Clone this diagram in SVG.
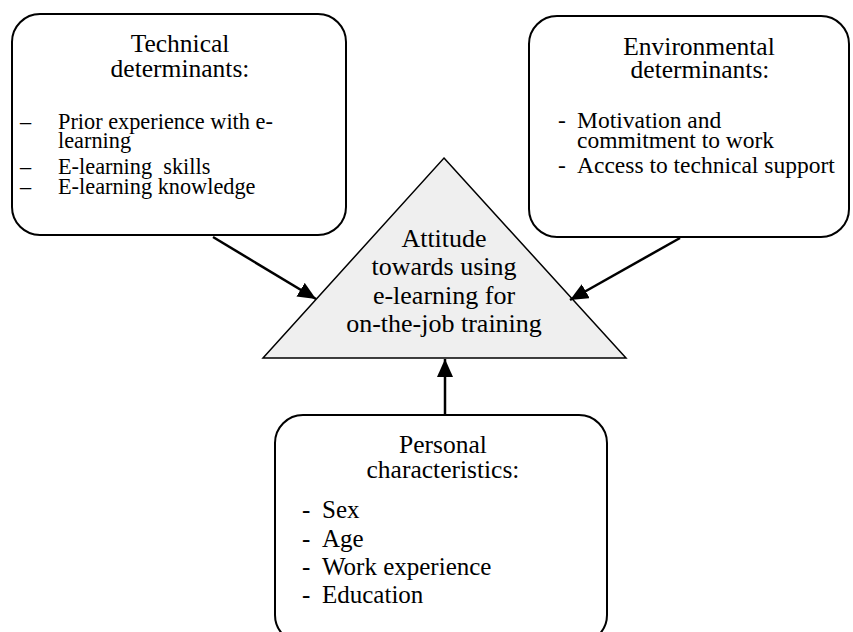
<svg xmlns="http://www.w3.org/2000/svg" width="853" height="632" viewBox="0 0 853 632">
<style>
.box{fill:#fff;stroke:#000;stroke-width:2}
.tri{fill:#efefef;stroke:#000;stroke-width:1.5;stroke-linejoin:miter}
text{font-family:"Liberation Serif","Times New Roman",serif;fill:#000}
.t{font-size:25.5px;text-anchor:middle}
.c{font-size:26px;text-anchor:middle}
.conn{stroke:#000;stroke-width:2.5;fill:none;marker-end:url(#ah)}
</style>
<defs>
<marker id="ah" markerUnits="userSpaceOnUse" markerWidth="20" markerHeight="16" refX="18" refY="8" orient="auto">
<path d="M0,0 L18,8 L0,16 Z" fill="#000"/>
</marker>
</defs>
<rect width="853" height="632" fill="#fff"/>
<g id="attitude">
<polygon class="tri" points="444,158 626,358 263,358"/>
<text class="c" x="444" y="247">Attitude</text>
<text class="c" x="444" y="275">towards using</text>
<text class="c" x="444" y="304">e-learning for</text>
<text class="c" x="444" y="332">on-the-job training</text>
</g>
<g id="technical">
<rect class="box" x="12" y="14" width="334" height="221" rx="28" ry="28"/>
<text class="t" x="180" y="52">Technical</text>
<text class="t" x="180" y="77">determinants:</text>
<g font-size="22.3">
<text x="20" y="129">–</text><text x="58" y="129">Prior experience with e-</text>
<text x="58" y="148">learning</text>
<text x="20" y="174">–</text><text x="58" y="174" xml:space="preserve">E-learning  skills</text>
<text x="20" y="194">–</text><text x="58" y="194">E-learning knowledge</text>
</g>
</g>
<g id="environmental">
<rect class="box" x="529" y="16" width="320" height="221" rx="28" ry="28"/>
<text class="t" x="699" y="55">Environmental</text>
<text class="t" x="700" y="78">determinants:</text>
<g font-size="23.5">
<text x="558" y="128">-</text><text x="577" y="128">Motivation and</text>
<text x="577" y="148">commitment to work</text>
<text x="558" y="173">-</text><text x="577" y="173">Access to technical support</text>
</g>
</g>
<g id="personal">
<rect class="box" x="275" y="415" width="332" height="228" rx="28" ry="28"/>
<text class="t" x="443" y="453">Personal</text>
<text class="t" x="443" y="478">characteristics:</text>
<g font-size="25">
<text x="302" y="518">-</text><text x="322" y="518">Sex</text>
<text x="302" y="547">-</text><text x="322" y="547">Age</text>
<text x="302" y="575">-</text><text x="322" y="575">Work experience</text>
<text x="302" y="603">-</text><text x="322" y="603">Education</text>
</g>
</g>
<g id="connectors">
<line class="conn" x1="213" y1="237" x2="316" y2="299"/>
<line class="conn" x1="680" y1="238" x2="570" y2="300"/>
<line class="conn" x1="445" y1="415" x2="445" y2="359"/>
</g>
</svg>
